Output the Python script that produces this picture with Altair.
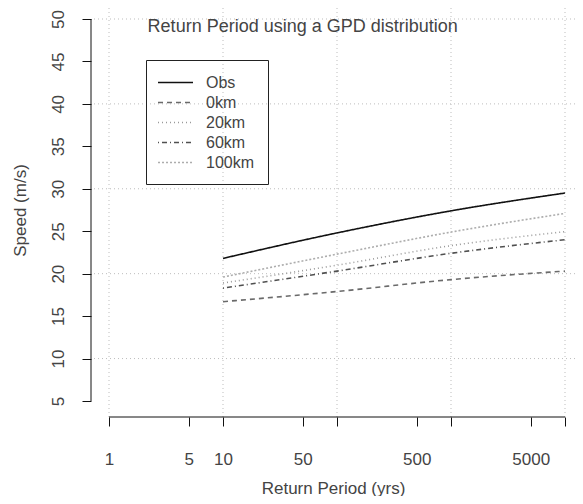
import json
import altair as alt
import pandas as pd

# ---- data ----
periods = [10, 100, 1000, 10000]
obs = [21.8, 24.8, 27.4, 29.5]
km0 = [16.7, 17.9, 19.3, 20.3]
km20 = [18.9, 21.0, 23.3, 24.95]
km60 = [18.3, 20.3, 22.4, 24.0]
km100 = [19.6, 22.3, 24.9, 27.1]
series_names = ["Obs", "0km", "20km", "60km", "100km"]
series_values = [obs, km0, km20, km60, km100]

x_ticks = [1, 5, 10, 50, 100, 500, 1000, 5000, 10000]
x_labelled = [1, 5, 10, 50, 500, 5000]
y_ticks = [5, 10, 15, 20, 25, 30, 35, 40, 45, 50]
grid_x = [1, 10, 100, 1000, 10000]
grid_y = [10, 20, 30, 40, 50]
x_axis_span = [1, 10000]
y_axis_span = [5, 50]
title_text = "Return Period using a GPD distribution"
title_pos = [50, 49]

# ---- styling ----
FONT = "Liberation Sans"
TXT = "#444444"
PLOT_W = 484
PLOT_H = 409
colors = ["#111111", "#6a6a6a", "#9a9a9a", "#505050", "#adadad"]
dashes = [[1, 0], [5, 4], [1, 3], [1, 3, 5, 3], [2, 2]]

rows = []
for name, vals in zip(series_names, series_values):
    for p, v in zip(periods, vals):
        rows.append({"period": p, "speed": v, "series": name})
df = pd.DataFrame(rows)

xscale = alt.Scale(type="log", domain=[0.695, 12237], nice=False)
yscale = alt.Scale(domain=[3.115, 51.296], nice=False, zero=False)

label_expr = "indexof(%s, datum.value) >= 0 ? datum.label : ''" % json.dumps(x_labelled)

x_axis = alt.Axis(
    values=x_ticks, format="d", labelExpr=label_expr,
    tickSize=9, tickColor="#111111", domain=False, grid=False,
    labelFont=FONT, labelFontSize=17, labelColor=TXT,
    labelBaseline="alphabetic", labelPadding=38,
    labelOverlap=False, labelFlush=False,
    title="Return Period (yrs)", titleFont=FONT, titleFontSize=17,
    titleFontWeight="normal", titleColor=TXT,
    titleBaseline="alphabetic", titleY=76,
)
y_axis = alt.Axis(
    values=y_ticks, tickSize=9, tickColor="#111111", domain=False, grid=False,
    labelFont=FONT, labelFontSize=17, labelColor=TXT,
    labelAngle=270, labelAlign="center", labelBaseline="alphabetic",
    labelPadding=19, labelOverlap=False, labelFlush=False,
    title="Speed (m/s)", titleFont=FONT, titleFontSize=17,
    titleFontWeight="normal", titleColor=TXT,
    titleAngle=270, titleAlign="center", titleBaseline="middle",
    titleX=-71, titleY=202,
)

gx = alt.Chart(pd.DataFrame({"gx": grid_x})).mark_rule(
    color="#bdbdbd", strokeDash=[1, 3], strokeWidth=1
).encode(x=alt.X("gx:Q", scale=xscale, axis=x_axis))

gy = alt.Chart(pd.DataFrame({"gy": grid_y})).mark_rule(
    color="#bdbdbd", strokeDash=[1, 3], strokeWidth=1
).encode(y=alt.Y("gy:Q", scale=yscale, axis=y_axis))

xline = alt.Chart(pd.DataFrame({"a": [x_axis_span[0]], "b": [x_axis_span[1]]})).mark_rule(
    color="#111111", strokeWidth=1
).encode(x=alt.X("a:Q", scale=xscale, axis=x_axis), x2="b:Q", y=alt.value(PLOT_H))

yline = alt.Chart(pd.DataFrame({"a": [y_axis_span[0]], "b": [y_axis_span[1]]})).mark_rule(
    color="#111111", strokeWidth=1
).encode(y=alt.Y("a:Q", scale=yscale, axis=y_axis), y2="b:Q", x=alt.value(0))

legend = alt.Legend(
    orient="none", legendX=55, legendY=52, title=None,
    padding=13, strokeColor="#222222", cornerRadius=0,
    labelFont=FONT, labelFontSize=16, labelColor=TXT, labelOffset=21,
    symbolType="M-2,0H2", symbolSize=306, symbolStrokeWidth=1.5,
    symbolOffset=7, rowPadding=2,
)

lines = alt.Chart(df).mark_line(strokeWidth=1.6, interpolate="monotone").encode(
    x=alt.X("period:Q", scale=xscale, axis=x_axis),
    y=alt.Y("speed:Q", scale=yscale, axis=y_axis),
    color=alt.Color("series:N", scale=alt.Scale(domain=series_names, range=colors),
                    legend=legend, title=None),
    strokeDash=alt.StrokeDash("series:N", scale=alt.Scale(domain=series_names, range=dashes),
                              legend=legend, title=None),
    detail="series:N",
)

title_mark = alt.Chart(pd.DataFrame({"x": [title_pos[0]], "y": [title_pos[1]], "t": [title_text]})).mark_text(
    font=FONT, fontSize=18, color=TXT, align="center", baseline="middle"
).encode(x=alt.X("x:Q", scale=xscale, axis=x_axis), y=alt.Y("y:Q", scale=yscale, axis=y_axis), text="t:N")

chart = alt.layer(gx, gy, xline, yline, lines, title_mark).properties(
    width=PLOT_W, height=PLOT_H,
    autosize=alt.AutoSizeParams(type="none"),
    padding={"left": 83, "top": 0, "right": 0, "bottom": 79},
).configure(background="white").configure_view(strokeWidth=0)

chart.save("out.html", embed_options={"renderer": "svg", "actions": False})
